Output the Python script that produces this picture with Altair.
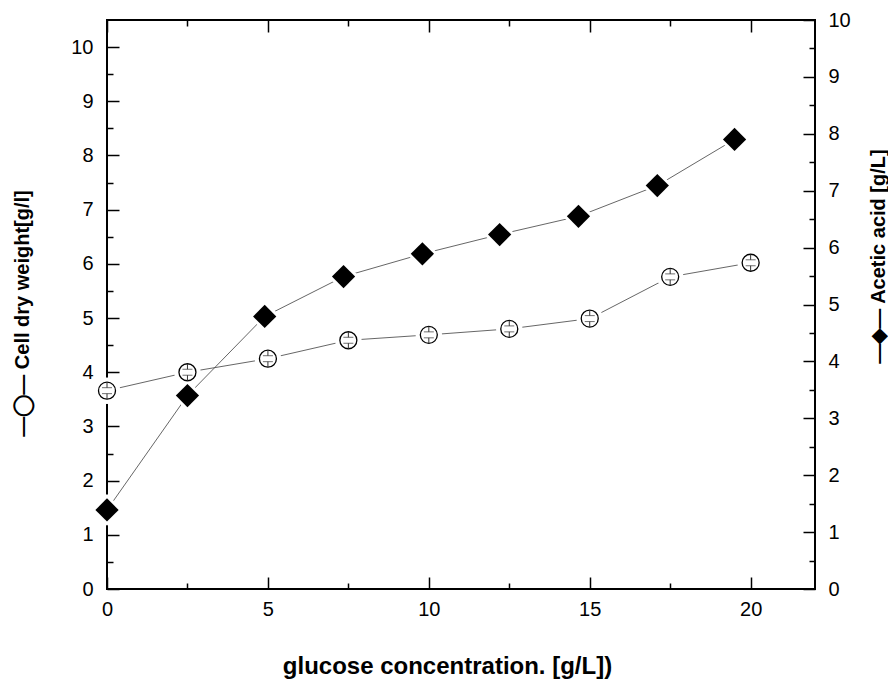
import altair as alt
import pandas as pd

# ---- data ----
glucose_cdw = [0, 2.5, 5, 7.5, 10, 12.5, 15, 17.5, 20]
cdw = [3.66, 4.00, 4.25, 4.59, 4.69, 4.80, 4.99, 5.76, 6.02]
glucose_acetic = [0, 2.5, 4.9, 7.35, 9.8, 12.2, 14.65, 17.1, 19.5]
acetic = [1.39, 3.40, 4.79, 5.49, 5.89, 6.23, 6.55, 7.09, 7.90]
cdw_cap = 0.055
cdw_stem = 0.155

x_major = [0, 5, 10, 15, 20]
x_minor = [2.5, 7.5, 12.5, 17.5]
left_major = list(range(0, 11))
left_minor = [i + 0.5 for i in range(10)]
right_major = list(range(0, 11))
right_minor = [i + 0.5 for i in range(10)]

FONT = "Liberation Sans"

df_c = pd.DataFrame({"g": glucose_cdw, "v": cdw})
df_caps = pd.concat([
    pd.DataFrame({"g": glucose_cdw, "y": [v + cdw_cap for v in cdw]}),
    pd.DataFrame({"g": glucose_cdw, "y": [v - cdw_cap for v in cdw]}),
])
df_stems = pd.concat([
    pd.DataFrame({"g": glucose_cdw, "y": [v + cdw_cap for v in cdw], "y2": [v + cdw_stem for v in cdw]}),
    pd.DataFrame({"g": glucose_cdw, "y": [v - cdw_cap for v in cdw], "y2": [v - cdw_stem for v in cdw]}),
])
df_a = pd.DataFrame({"g": glucose_acetic, "v": acetic})

xs = alt.Scale(domain=[0, 22], nice=False, zero=False)
yl = alt.Scale(domain=[0, 10.5], nice=False, zero=False)
yr = alt.Scale(domain=[0, 10], nice=False, zero=False)

tick_common = dict(domain=False, grid=False, tickColor="black", tickWidth=1.5,
                   labelFont=FONT, labelFontSize=20, labelColor="black",
                   titleFont=FONT, titleFontWeight="bold", titleColor="black")

ax_bottom = alt.Axis(orient="bottom", values=x_major, tickSize=12, offset=-12,
                     labelPadding=10, labelFlush=False, format="d",
                     title="glucose concentration. [g/L])", titleFontSize=24,
                     titleX=340, titleY=89, titleBaseline="middle", titleAlign="center",
                     **tick_common)
ax_bottom_minor = alt.Axis(orient="bottom", values=x_minor, tickSize=6, offset=-6,
                           labels=False, title=None, domain=False, grid=False,
                           tickColor="black", tickWidth=1.5)
ax_top = alt.Axis(orient="top", values=x_major, tickSize=12, offset=-12,
                  labels=False, title=None, domain=False, grid=False,
                  tickColor="black", tickWidth=1.5)
ax_top_minor = alt.Axis(orient="top", values=x_minor, tickSize=6, offset=-6,
                        labels=False, title=None, domain=False, grid=False,
                        tickColor="black", tickWidth=1.5)

ax_left = alt.Axis(orient="left", values=left_major, tickSize=12, offset=-12,
                   labelPadding=14, format="d",
                   title="—◯— Cell dry weight[g/l]", titleFontSize=20, titleAngle=270,
                   titleX=-97, titleY=293, titleBaseline="middle", titleAlign="center",
                   **tick_common)
ax_left_minor = alt.Axis(orient="left", values=left_minor, tickSize=6, offset=-6,
                         labels=False, title=None, domain=False, grid=False,
                         tickColor="black", tickWidth=1.5)
ax_right = alt.Axis(orient="right", values=right_major, tickSize=12, offset=-12,
                    labelPadding=13, format="d",
                    title="—◆— Acetic acid [g/L]", titleFontSize=20, titleAngle=270,
                    titleX=75, titleY=236, titleBaseline="middle", titleAlign="center",
                    **tick_common)
ax_right_minor = alt.Axis(orient="right", values=right_minor, tickSize=6, offset=-6,
                          labels=False, title=None, domain=False, grid=False,
                          tickColor="black", tickWidth=1.5)

LINE = "#555555"

# cell dry weight layers
c_line = alt.Chart(df_c).mark_line(color=LINE, strokeWidth=0.9).encode(
    x=alt.X("g:Q", scale=xs, axis=ax_bottom),
    y=alt.Y("v:Q", scale=yl, axis=ax_left),
)
c_halo = alt.Chart(df_c).mark_point(shape="circle", filled=True, color="white",
                                    size=700, opacity=1).encode(
    x=alt.X("g:Q", scale=xs, axis=None),
    y=alt.Y("v:Q", scale=yl, axis=None),
)
c_pt = alt.Chart(df_c).mark_point(shape="circle", fill="white", stroke="black",
                                  strokeWidth=1.3, size=289, opacity=1).encode(
    x=alt.X("g:Q", scale=xs, axis=None),
    y=alt.Y("v:Q", scale=yl, axis=None),
)
c_stems = alt.Chart(df_stems).mark_rule(color="#333333", strokeWidth=1).encode(
    x=alt.X("g:Q", scale=xs, axis=None),
    y=alt.Y("y:Q", scale=yl, axis=None),
    y2="y2:Q",
)
c_caps = alt.Chart(df_caps).mark_tick(orient="horizontal", color="#333333",
                                      thickness=1, size=10).encode(
    x=alt.X("g:Q", scale=xs, axis=None),
    y=alt.Y("y:Q", scale=yl, axis=None),
)

# acetic acid layers
a_line = alt.Chart(df_a).mark_line(color=LINE, strokeWidth=0.9).encode(
    x=alt.X("g:Q", scale=xs, axis=None),
    y=alt.Y("v:Q", scale=yr, axis=ax_right),
)
a_halo = alt.Chart(df_a).mark_point(shape="diamond", filled=True, color="white",
                                    size=1000, opacity=1).encode(
    x=alt.X("g:Q", scale=xs, axis=None),
    y=alt.Y("v:Q", scale=yr, axis=None),
)
a_pt = alt.Chart(df_a).mark_point(shape="diamond", filled=True, color="black",
                                  size=540, opacity=1).encode(
    x=alt.X("g:Q", scale=xs, axis=None),
    y=alt.Y("v:Q", scale=yr, axis=None),
)

# axis-only layers (minor ticks, top ticks)
lm = alt.Chart(pd.DataFrame({"t": left_minor})).mark_point(opacity=0).encode(
    y=alt.Y("t:Q", scale=yl, axis=ax_left_minor))
rm = alt.Chart(pd.DataFrame({"t": right_minor})).mark_point(opacity=0).encode(
    y=alt.Y("t:Q", scale=yr, axis=ax_right_minor))
bm = alt.Chart(pd.DataFrame({"t": x_minor})).mark_point(opacity=0).encode(
    x=alt.X("t:Q", scale=xs, axis=ax_bottom_minor))
tM = alt.Chart(pd.DataFrame({"t": x_major})).mark_point(opacity=0).encode(
    x=alt.X("t:Q", scale=xs, axis=ax_top))
tm = alt.Chart(pd.DataFrame({"t": x_minor})).mark_point(opacity=0).encode(
    x=alt.X("t:Q", scale=xs, axis=ax_top_minor))

chart = alt.layer(
    c_line, c_halo, a_line, a_halo, c_pt, c_stems, c_caps, a_pt, lm, rm, bm, tM, tm
).resolve_scale(y="independent").resolve_axis(x="independent", y="independent").properties(
    width=708, height=569,
    autosize=alt.AutoSizeParams(type="none"),
    padding={"left": 99, "top": 12, "right": 73, "bottom": 91},
    background="white",
).configure_view(stroke="black", strokeWidth=2)

chart.save("out.html", embed_options={"renderer": "svg", "actions": False})
